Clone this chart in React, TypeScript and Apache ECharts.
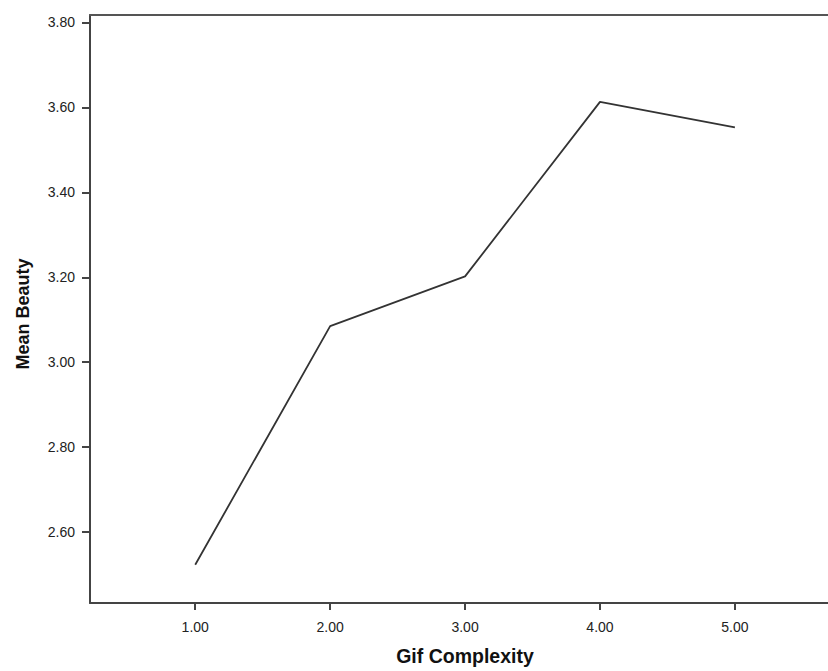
import React, { useEffect, useRef } from "react";
import * as echarts from "echarts";

const categories = [1, 2, 3, 4, 5];
const meanBeauty = [2.523, 3.085, 3.202, 3.613, 3.553];
const yTicks = [2.6, 2.8, 3.0, 3.2, 3.4, 3.6, 3.8];
const xTicks = [1, 2, 3, 4, 5];

export default function App() {
  const ref = useRef<HTMLDivElement>(null);
  useEffect(() => {
    if (!ref.current) return;
    const chart = echarts.init(ref.current, null, { renderer: "svg" });
    const font = "'Liberation Sans', Arial, sans-serif";
    chart.setOption({
      animation: false,
      backgroundColor: "#ffffff",
      grid: { left: 90, right: 0, top: 15, bottom: 64, containLabel: false },
      xAxis: [
        {
          type: "value",
          min: 0.22,
          max: 5.69,
          name: "Gif Complexity",
          nameLocation: "middle",
          nameGap: 43,
          nameTextStyle: {
            fontFamily: font,
            fontSize: 19.5,
            fontWeight: "bold",
            color: "#111",
            padding: [0, 0, 0, 12],
          },
          axisLine: { show: true, lineStyle: { color: "#444", width: 2 } },
          axisTick: { show: true, length: 7, customValues: xTicks, lineStyle: { color: "#444", width: 2 } },
          axisLabel: {
            customValues: xTicks,
            formatter: (v: number) => v.toFixed(2),
            fontFamily: font,
            fontSize: 14,
            color: "#222",
            margin: 17,
          },
          splitLine: { show: false },
        },
        {
          type: "value",
          position: "top",
          min: 0.22,
          max: 5.69,
          axisLine: { show: true, lineStyle: { color: "#555", width: 2 } },
          axisTick: { show: false },
          axisLabel: { show: false },
          splitLine: { show: false },
        },
      ],
      yAxis: {
        type: "value",
        min: 2.433,
        max: 3.8175,
        name: "Mean Beauty",
        nameLocation: "middle",
        nameGap: 58,
        nameTextStyle: {
          fontFamily: font,
          fontSize: 18,
          fontWeight: "bold",
          color: "#111",
          padding: [0, 10, 0, 0],
        },
        axisLine: { show: true, lineStyle: { color: "#444", width: 2 } },
        axisTick: { show: true, length: 8, customValues: yTicks, lineStyle: { color: "#444", width: 2 } },
        axisLabel: {
          customValues: yTicks,
          formatter: (v: number) => v.toFixed(2),
          fontFamily: font,
          fontSize: 14,
          color: "#222",
          margin: 15,
        },
        splitLine: { show: false },
      },
      series: [
        {
          type: "line",
          xAxisIndex: 0,
          data: categories.map((c, i) => [c, meanBeauty[i]]),
          showSymbol: false,
          symbol: "none",
          lineStyle: { color: "#333", width: 1.8 },
        },
      ],
    });
    return () => chart.dispose();
  }, []);
  return (
    <div
      ref={ref}
      style={{ position: "fixed", left: 0, top: 0, width: 828, height: 671 }}
    />
  );
}
